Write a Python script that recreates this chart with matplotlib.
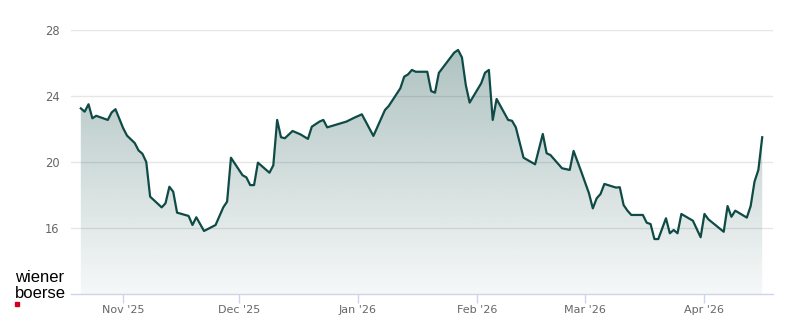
import matplotlib
matplotlib.use("Agg")
import matplotlib.pyplot as plt
import matplotlib.dates as mdates
import numpy as np
import pandas as pd

# closing prices
dates = [
    "2025-10-21", "2025-10-22", "2025-10-23", "2025-10-24", "2025-10-25",
    "2025-10-28", "2025-10-29", "2025-10-30", "2025-11-01", "2025-11-02",
    "2025-11-04", "2025-11-05", "2025-11-06", "2025-11-07", "2025-11-08",
    "2025-11-11", "2025-11-12", "2025-11-13", "2025-11-14", "2025-11-15",
    "2025-11-18", "2025-11-19", "2025-11-20", "2025-11-22", "2025-11-25",
    "2025-11-27", "2025-11-28", "2025-11-29", "2025-12-02", "2025-12-03",
    "2025-12-04", "2025-12-05", "2025-12-06", "2025-12-09", "2025-12-10",
    "2025-12-11", "2025-12-12", "2025-12-13", "2025-12-15", "2025-12-17",
    "2025-12-19", "2025-12-20", "2025-12-22", "2025-12-23", "2025-12-24",
    "2025-12-29", "2025-12-31", "2026-01-02", "2026-01-05", "2026-01-08",
    "2026-01-09", "2026-01-12", "2026-01-13", "2026-01-14", "2026-01-15",
    "2026-01-16", "2026-01-19", "2026-01-20", "2026-01-21", "2026-01-22",
    "2026-01-26", "2026-01-27", "2026-01-28", "2026-01-29", "2026-01-30",
    "2026-02-02", "2026-02-03", "2026-02-04", "2026-02-05", "2026-02-06",
    "2026-02-09", "2026-02-10", "2026-02-11", "2026-02-13", "2026-02-16",
    "2026-02-18", "2026-02-19", "2026-02-20", "2026-02-23", "2026-02-25",
    "2026-02-26", "2026-02-28", "2026-03-02", "2026-03-03", "2026-03-04",
    "2026-03-05", "2026-03-06", "2026-03-09", "2026-03-10", "2026-03-11",
    "2026-03-12", "2026-03-13", "2026-03-16", "2026-03-17", "2026-03-18",
    "2026-03-19", "2026-03-20", "2026-03-22", "2026-03-23", "2026-03-24",
    "2026-03-25", "2026-03-26", "2026-03-29", "2026-03-31", "2026-04-01",
    "2026-04-02", "2026-04-06", "2026-04-07", "2026-04-08", "2026-04-09",
    "2026-04-12", "2026-04-13", "2026-04-14", "2026-04-15", "2026-04-16",
]
prices = [
    23.25, 23.05, 23.5, 22.65, 22.8,
    22.55, 23.0, 23.2, 22.05, 21.6,
    21.15, 20.7, 20.5, 20.0, 17.9,
    17.25, 17.5, 18.5, 18.2, 16.93,
    16.73, 16.18, 16.65, 15.82, 16.18,
    17.25, 17.6, 20.26, 19.2, 19.07,
    18.6, 18.6, 19.96, 19.35, 19.8,
    22.55, 21.5, 21.44, 21.88, 21.68,
    21.4, 22.14, 22.45, 22.55, 22.1,
    22.45, 22.68, 22.89, 21.58, 23.15,
    23.4, 24.47, 25.17, 25.31, 25.58,
    25.47, 25.47, 24.3, 24.2, 25.4,
    26.63, 26.79, 26.34, 24.67, 23.6,
    24.77, 25.41, 25.58, 22.55, 23.82,
    22.55, 22.5, 22.1, 20.26, 19.86,
    21.7, 20.53, 20.42, 19.62, 19.52,
    20.67, 19.41, 18.1, 17.19, 17.8,
    18.06, 18.67, 18.45, 18.47, 17.39,
    17.05, 16.79, 16.79, 16.32, 16.24,
    15.33, 15.33, 16.59, 15.68, 15.88,
    15.68, 16.85, 16.44, 15.44, 16.85,
    16.53, 15.77, 17.33, 16.68, 17.05,
    16.63, 17.33, 18.81, 19.52, 21.5,
]
y_ticks = [16, 20, 24, 28]

x = pd.to_datetime(dates)
y = np.array(prices)

line_color = "#0f4b46"

fig = plt.figure(figsize=(8, 3.24), dpi=100)
ax = fig.add_axes([0.089, 0.0926, 0.877, 0.8148])

x0 = pd.Timestamp("2025-10-18 12:00")
x1 = pd.Timestamp("2026-04-18 18:00")
ymin, ymax = 12, 28

# gradient area under the line
fill = ax.fill_between(x, y, ymin, facecolor="none", edgecolor="none")
grad = np.zeros((256, 1, 4))
grad[:, 0, 0:3] = matplotlib.colors.to_rgb(line_color)
grad[:, 0, 3] = np.linspace(0.36, 0.04, 256)
img = ax.imshow(grad, aspect="auto", origin="upper",
                extent=[mdates.date2num(x0), mdates.date2num(x1), ymin, ymax],
                zorder=1)
img.set_clip_path(fill.get_paths()[0], transform=ax.transData)

ax.plot(x, y, color=line_color, linewidth=1.6, zorder=3, solid_joinstyle="round")

ax.set_xlim(x0, x1)
ax.set_ylim(ymin, ymax)
ax.set_yticks(y_ticks)
ax.yaxis.grid(True, color="#e6e6e6", linewidth=1)
ax.set_axisbelow(True)

for s in ["top", "right", "left"]:
    ax.spines[s].set_visible(False)
ax.spines["bottom"].set_color("#ccd6eb")
ax.spines["bottom"].set_linewidth(1)

ax.xaxis.set_major_locator(mdates.MonthLocator())
ax.xaxis.set_major_formatter(mdates.DateFormatter("%b '%y"))
ax.tick_params(axis="x", colors="#ccd6eb", length=6.5, width=1, labelcolor="#666666",
               labelsize=8, pad=1.5)
ax.tick_params(axis="y", length=0, labelcolor="#666666", labelsize=8.3, pad=8.5)

# logo
fig.text(15 / 800, 1 - 277 / 324, "wiener", fontsize=12, family="Liberation Sans",
         color="black", va="center", ha="left")
fig.text(15 / 800, 1 - 293 / 324, "boerse", fontsize=12, family="Liberation Sans",
         color="black", va="center", ha="left")
fig.patches.append(plt.Rectangle((15 / 800, 1 - 306 / 324), 4 / 800, 4 / 324,
                                 transform=fig.transFigure, color="#d0021b"))

plt.savefig("out.png", dpi=100)
